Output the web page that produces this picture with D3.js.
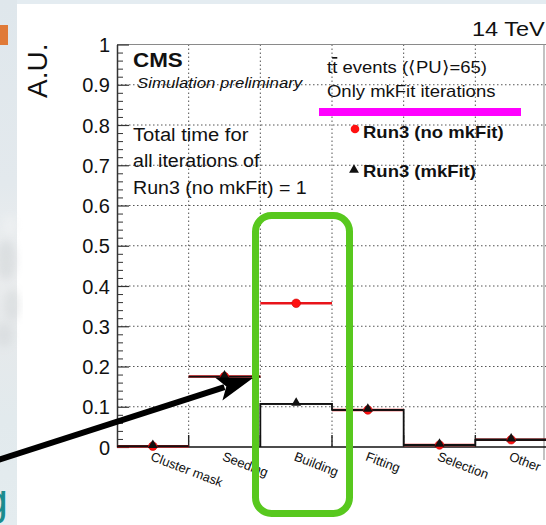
<!DOCTYPE html>
<html>
<head>
<meta charset="utf-8">
<script src="https://cdn.jsdelivr.net/npm/d3@7"></script>
<style>
  html, body { margin: 0; padding: 0; background: #ffffff; }
  svg { display: block; }
  text { font-family: "Liberation Sans", Arial, Helvetica, sans-serif; fill: #111; }
</style>
</head>
<body>
<svg id="chart" width="546" height="525"></svg>
<script>
// Time per tracking step, normalised to the total of Run3 (no mkFit)
const categories = ["Cluster mask", "Seeding", "Building", "Fitting", "Selection", "Other"];
const noMkFit = [0.002, 0.175, 0.357, 0.092, 0.005, 0.018];
const mkFit   = [0.002, 0.175, 0.107, 0.092, 0.005, 0.018];
const yTicks = [0, 0.1, 0.2, 0.3, 0.4, 0.5, 0.6, 0.7, 0.8, 0.9, 1];
const yTickLabels = ["0", "0.1", "0.2", "0.3", "0.4", "0.5", "0.6", "0.7", "0.8", "0.9", "1"];
const seriesNames = ["Run3 (no mkFit)", "Run3 (mkFit)"];

const svg = d3.select("#chart");
const SX = 1.12; // horizontal stretch of the slide rendering

// ---- slide background pieces ----
const defs = svg.append("defs");
const g1 = defs.append("linearGradient").attr("id", "strip").attr("x1", 0).attr("y1", 0).attr("x2", 0).attr("y2", 1);
g1.append("stop").attr("offset", "0%").attr("stop-color", "#dfe7ec");
g1.append("stop").attr("offset", "35%").attr("stop-color", "#e3e9ed");
g1.append("stop").attr("offset", "50%").attr("stop-color", "#eceeef");
g1.append("stop").attr("offset", "62%").attr("stop-color", "#e6e9eb");
g1.append("stop").attr("offset", "80%").attr("stop-color", "#e2eaed");
g1.append("stop").attr("offset", "100%").attr("stop-color", "#e4ecef");
defs.append("filter").attr("id", "soft").append("feGaussianBlur").attr("stdDeviation", 4);

svg.append("rect").attr("x", 0).attr("y", 0).attr("width", 546).attr("height", 4).attr("fill", "#e4ecf1");
svg.append("rect").attr("x", 0).attr("y", 0).attr("width", 17).attr("height", 525).attr("fill", "url(#strip)");
const cloud = svg.append("g").attr("filter", "url(#soft)").attr("opacity", 0.45);
[[6, 260, 10, 20, "#c8cdd0"], [12, 305, 8, 16, "#d0d4d6"], [4, 335, 9, 12, "#cfd3d5"], [10, 225, 7, 10, "#f4f5f5"]]
  .forEach(c => cloud.append("ellipse").attr("cx", c[0]).attr("cy", c[1]).attr("rx", c[2]).attr("ry", c[3]).attr("fill", c[4]));
svg.append("rect").attr("x", 0).attr("y", 25).attr("width", 8).attr("height", 20).attr("fill", "#e07a38");
svg.append("text").attr("class", "plain").attr("x", 8).attr("y", 515).attr("text-anchor", "end")
  .style("font-size", "44px").style("fill", "#1b8c8e").text("g");

// ---- scales ----
const x = d3.scaleBand().domain(categories).range([117, 547]).padding(0);
const y = d3.scaleLinear().domain([0, 1]).range([447, 44.5]);
const bw = x.bandwidth();
const edges = categories.slice(1).map(c => x(c));

// ---- grid ----
const grid = svg.append("g").attr("stroke", "#555").attr("stroke-width", 1).attr("stroke-dasharray", "1.5,2.5");
yTicks.filter(t => t > 0 && t < 1).forEach(t => {
  grid.append("line").attr("x1", 117).attr("x2", 547).attr("y1", y(t)).attr("y2", y(t));
});
edges.forEach(e => {
  grid.append("line").attr("x1", e).attr("x2", e).attr("y1", y(1)).attr("y2", y(0));
});

// ---- frame ----
svg.append("line").attr("x1", 117).attr("x2", 547).attr("y1", y(1)).attr("y2", y(1))
  .attr("stroke", "#8a8a8a").attr("stroke-width", 1.2);
svg.append("line").attr("x1", 544).attr("x2", 544).attr("y1", y(1)).attr("y2", 460)
  .attr("stroke", "#9a9a9a").attr("stroke-width", 1.2);

// ---- y axis (ticks inside the frame) ----
const yAxis = d3.axisLeft(y).tickValues(yTicks).tickSizeInner(-12).tickSizeOuter(0).tickPadding(7)
  .tickFormat((d, i) => yTickLabels[i]);
const ya = svg.append("g").attr("transform", "translate(117,0)").call(yAxis);
ya.select(".domain").attr("stroke", "#333").attr("stroke-width", 1.5);
ya.selectAll(".tick line").attr("stroke", "#333").attr("stroke-width", 1.2);
ya.selectAll(".tick text").attr("x", -7).attr("dy", "0.36em").style("font-size", "20px").style("font-family", null);
const minor = d3.range(0, 51).map(i => i / 50).filter(v => Math.round(v * 50) % 5 !== 0);
const ym = svg.append("g").attr("transform", "translate(117,0)")
  .call(d3.axisLeft(y).tickValues(minor).tickSizeInner(-6).tickSizeOuter(0).tickFormat(""));
ym.select(".domain").remove();
ym.selectAll(".tick line").attr("stroke", "#333").attr("stroke-width", 1);

// ---- x axis ----
svg.append("line").attr("x1", 117).attr("x2", 547).attr("y1", y(0)).attr("y2", y(0))
  .attr("stroke", "#111").attr("stroke-width", 1.6);
edges.forEach(e => {
  svg.append("line").attr("x1", e).attr("x2", e).attr("y1", y(0)).attr("y2", y(0) - 12)
    .attr("stroke", "#222").attr("stroke-width", 1.4);
});
categories.forEach(c => {
  const cx = x(c) + bw / 2;
  svg.append("text").attr("class", "plain")
    .attr("transform", `translate(${cx - 3},${460}) rotate(21)`)
    .style("font-size", "13px").text(c);
});

// ---- histograms ----
const hist = svg.append("g");
categories.forEach((c, i) => {
  hist.append("line").attr("x1", x(c)).attr("x2", x(c) + bw).attr("y1", y(noMkFit[i])).attr("y2", y(noMkFit[i]))
    .attr("stroke", "#e8141a").attr("stroke-width", 2.4);
});
categories.forEach((c, i) => {
  hist.append("line").attr("x1", x(c)).attr("x2", x(c) + bw).attr("y1", y(mkFit[i])).attr("y2", y(mkFit[i]))
    .attr("stroke", "#111").attr("stroke-width", 1.8);
});
// outline of the mkFit histogram from the building step onward
let p = d3.path();
p.moveTo(x(categories[2]), y(0));
for (let i = 2; i < categories.length; i++) {
  p.lineTo(x(categories[i]), y(mkFit[i]));
  p.lineTo(x(categories[i]) + bw, y(mkFit[i]));
}
hist.append("path").attr("d", p.toString()).attr("fill", "none").attr("stroke", "#111").attr("stroke-width", 1.8);

// markers
const tri = d3.symbol().type(d3.symbolTriangle).size(42);
categories.forEach((c, i) => {
  hist.append("circle").attr("cx", x(c) + bw / 2).attr("cy", y(noMkFit[i])).attr("r", 4.3)
    .attr("fill", "#ff1010").attr("stroke", "#c00").attr("stroke-width", 0.6);
});
categories.forEach((c, i) => {
  hist.append("path").attr("d", tri).attr("transform", `translate(${x(c) + bw / 2},${y(mkFit[i]) - 1})`)
    .attr("fill", "#111");
});

// ---- texts in the frame ----
function label(tx, ty, str, size, weight, style) {
  return svg.append("text").attr("x", tx).attr("y", ty).style("font-size", size + "px")
    .style("font-weight", weight || "normal").style("font-style", style || "normal").text(str);
}
label(472, 36, "14 TeV", 21);
label(133, 67, "CMS", 20, "bold");
label(137, 88, "Simulation preliminary", 15, "normal", "italic");
label(133, 141, "Total time for", 18);
label(133, 167, "all iterations of", 17.5);
label(133, 194, "Run3 (no mkFit) = 1", 17.5);
const tt = svg.append("text").attr("x", 327).attr("y", 73).style("font-size", "16.5px");
tt.append("tspan").text("t");
tt.append("tspan").style("text-decoration", "overline").text("t");
tt.append("tspan").text(" events (\u27E8PU\u27E9=65)");
label(327, 97, "Only mkFit iterations", 16.5);

// legend
svg.append("circle").attr("cx", 355).attr("cy", 129).attr("r", 4.3).attr("fill", "#ff1010");
label(363, 138, seriesNames[0], 16.5, "bold");
svg.append("path").attr("d", tri).attr("transform", "translate(354,170)").attr("fill", "#111");
label(363, 177, seriesNames[1], 16.5, "bold");

// y title
svg.append("text").attr("class", "plain").attr("transform", "translate(47,98) rotate(-90)")
  .style("font-size", "28px").text("A.U.");

// ---- annotations ----
svg.append("rect").attr("x", 319).attr("y", 108).attr("width", 202).attr("height", 8).attr("fill", "#ff00ff");
svg.append("rect").attr("x", 255.5).attr("y", 215.5).attr("width", 94).attr("height", 298).attr("rx", 16)
  .attr("fill", "none").attr("stroke", "#58c81e").attr("stroke-width", 7);

// arrow
const tip = [253, 378], tail = [-5, 461];
const dx = tip[0] - tail[0], dy = tip[1] - tail[1], L = Math.hypot(dx, dy);
const ux = dx / L, uy = dy / L, nx = -uy, ny = ux;
const hl = 36, hw = 12;
const bx = tip[0] - hl * ux, by = tip[1] - hl * uy;
svg.append("line").attr("x1", tail[0]).attr("y1", tail[1]).attr("x2", bx + 6 * ux).attr("y2", by + 6 * uy)
  .attr("stroke", "#000").attr("stroke-width", 6);
svg.append("path").attr("d", `M${tip[0]},${tip[1]} L${bx + hw * nx},${by + hw * ny} L${bx + 8 * ux},${by + 8 * uy} L${bx - hw * nx},${by - hw * ny} Z`)
  .attr("fill", "#000");

// widen glyphs of the frame texts to the slide's aspect
svg.selectAll("text").filter(function () { return !this.classList.contains("plain") && !this.closest(".tick"); })
  .each(function () {
    const w = this.getComputedTextLength();
    d3.select(this).attr("textLength", w * SX).attr("lengthAdjust", "spacingAndGlyphs");
  });
</script>
</body>
</html>
